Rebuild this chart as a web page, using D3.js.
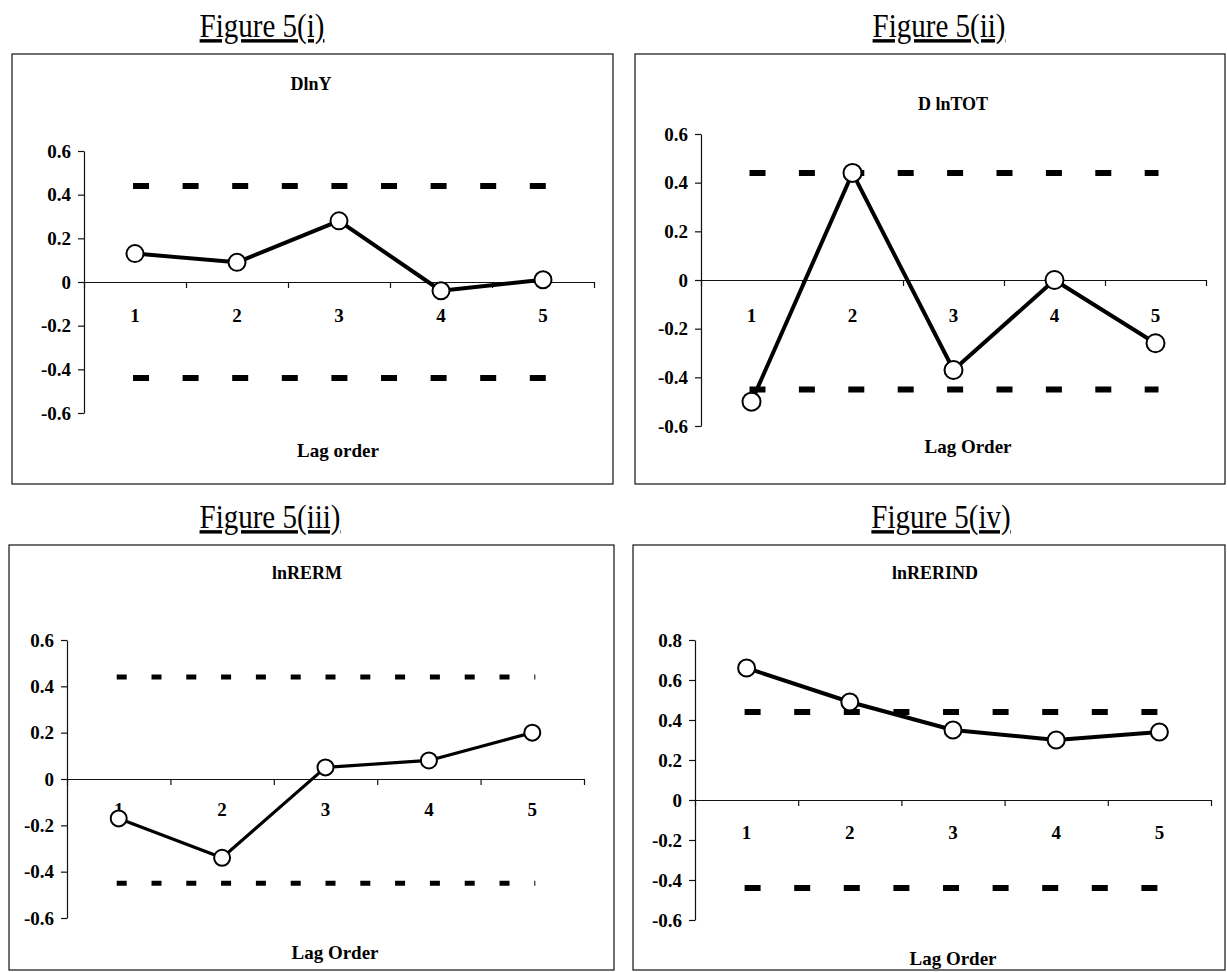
<!DOCTYPE html>
<html>
<head>
<meta charset="utf-8">
<script src="https://cdn.jsdelivr.net/npm/d3@7/dist/d3.min.js"></script>
<style>
  html, body { margin: 0; padding: 0; background: #fff; }
  svg { display: block; }
  text { font-family: "Liberation Serif", "Times New Roman", serif; fill: #000; }
</style>
</head>
<body>
<svg id="chart" width="1227" height="972"></svg>
<script>
// ---------- data ----------
const lags = [1, 2, 3, 4, 5];
const xTickLabels = ["1", "2", "3", "4", "5"];

const dlnY     = [0.13, 0.09, 0.28, -0.04, 0.01];
const dlnTOT   = [-0.50, 0.44, -0.37, 0.00, -0.26];
const lnRERM   = [-0.17, -0.34, 0.05, 0.08, 0.20];
const lnRERIND = [0.66, 0.49, 0.35, 0.30, 0.34];

const upperBound = [0.44, 0.44, 0.44, 0.44];
const lowerBound = [-0.44, -0.45, -0.45, -0.44];

const yTicksA = [-0.6, -0.4, -0.2, 0, 0.2, 0.4, 0.6];
const yTicksB = [-0.6, -0.4, -0.2, 0, 0.2, 0.4, 0.6, 0.8];

const figureTitles = ["Figure 5(i)", "Figure 5(ii)", "Figure 5(iii)", "Figure 5(iv)"];
const chartTitles  = ["DlnY", "D lnTOT", "lnRERM", "lnRERIND"];
const xTitles      = ["Lag order", "Lag Order", "Lag Order", "Lag Order"];
const seriesList   = [dlnY, dlnTOT, lnRERM, lnRERIND];
const yTickSets    = [yTicksA, yTicksA, yTicksA, yTicksB];

// ---------- layout (positions / styles only) ----------
const layouts = [
  { box: [12, 54, 613, 484], x: [84, 594], y: [413, 151], figT: [262, 37], chT: [311, 90], xT: [338, 457],
    labOff: 40, dash: "16,33.6", dashW: 6, lineW: 4, r: 8.5 },
  { box: [635, 54, 1225, 484], x: [701, 1206], y: [426, 134], figT: [939, 37], chT: [953, 110], xT: [968, 453],
    labOff: 42, dash: "16,33.4", dashW: 6, lineW: 4, r: 9 },
  { box: [9, 545, 614, 970], x: [67, 584], y: [918, 640], figT: [270, 528], chT: [307, 579], xT: [335, 959],
    labOff: 37, dash: "10,24.8", dashW: 5, lineW: 3.2, r: 8 },
  { box: [633, 545, 1225, 970], x: [695, 1211], y: [920, 640], figT: [941, 528], chT: [935, 579], xT: [953, 965],
    labOff: 39, dash: "16,33.6", dashW: 6, lineW: 4, r: 8.5 }
];

const svg = d3.select("#chart");

seriesList.forEach((vals, i) => {
  const L = layouts[i];
  const g = svg.append("g");
  const yt = yTickSets[i];

  // frame
  g.append("rect")
    .attr("x", L.box[0]).attr("y", L.box[1])
    .attr("width", L.box[2] - L.box[0]).attr("height", L.box[3] - L.box[1])
    .attr("fill", "none").attr("stroke", "#111").attr("stroke-width", 1.2);

  // figure title (underlined, slightly tall like the scan)
  svg.append("text")
    .attr("transform", `translate(${L.figT[0]},${L.figT[1]}) scale(1,1.18)`)
    .attr("text-anchor", "middle")
    .style("font-size", "29px")
    .style("text-decoration", "underline")
    .text(figureTitles[i]);

  // chart title
  g.append("text")
    .attr("x", L.chT[0]).attr("y", L.chT[1])
    .attr("text-anchor", "middle")
    .style("font-size", "18px").style("font-weight", "bold")
    .text(chartTitles[i]);

  // scales
  const y = d3.scaleLinear().domain([yt[0], yt[yt.length - 1]]).range(L.y);
  const xEdge = d3.scaleLinear().domain([0.5, 5.5]).range(L.x);
  const xPt = d3.scalePoint().domain(lags).range([xEdge(1), xEdge(5)]);

  // y axis
  const yAxis = g.append("g")
    .attr("transform", `translate(${L.x[0]},0)`)
    .call(d3.axisLeft(y).tickValues(yt).tickSize(6).tickSizeOuter(0).tickPadding(7)
      .tickFormat(d => String(d)));
  yAxis.select(".domain").attr("stroke", "#111").attr("stroke-width", 1.2);
  yAxis.selectAll(".tick line").attr("stroke", "#111").attr("stroke-width", 1.2);
  yAxis.selectAll(".tick text")
    .style("font-family", "'Liberation Serif', 'Times New Roman', serif")
    .style("font-size", "19px").style("font-weight", "bold").attr("fill", "#000");

  // x axis at zero with ticks at category boundaries
  const xAxis = g.append("g")
    .attr("transform", `translate(0,${y(0)})`)
    .call(d3.axisBottom(xEdge).tickValues([0.5, 1.5, 2.5, 3.5, 4.5, 5.5]).tickSize(6)
      .tickSizeOuter(0).tickFormat(""));
  xAxis.select(".domain").attr("stroke", "#111").attr("stroke-width", 1.2);
  xAxis.selectAll(".tick line").attr("stroke", "#111").attr("stroke-width", 1.2);

  // x category labels
  g.selectAll(".xl").data(lags).enter().append("text")
    .attr("x", d => xPt(d)).attr("y", y(0) + L.labOff)
    .attr("text-anchor", "middle")
    .style("font-size", "19px").style("font-weight", "bold")
    .text((d, k) => xTickLabels[k]);

  // x title
  g.append("text")
    .attr("x", L.xT[0]).attr("y", L.xT[1])
    .attr("text-anchor", "middle")
    .style("font-size", "19px").style("font-weight", "bold")
    .text(xTitles[i]);

  // bounds (dashed)
  [upperBound[i], lowerBound[i]].forEach(b => {
    g.append("line")
      .attr("x1", xPt(1) - 2).attr("x2", xPt(5) + 3)
      .attr("y1", y(b)).attr("y2", y(b))
      .attr("stroke", "#000").attr("stroke-width", L.dashW)
      .attr("stroke-dasharray", L.dash);
  });

  // series line
  const line = d3.line().x((d, k) => xPt(lags[k])).y(d => y(d));
  g.append("path").datum(vals)
    .attr("d", line)
    .attr("fill", "none").attr("stroke", "#000")
    .attr("stroke-width", L.lineW).attr("stroke-linejoin", "round");

  // markers
  g.selectAll(".pt").data(vals).enter().append("circle")
    .attr("cx", (d, k) => xPt(lags[k])).attr("cy", d => y(d))
    .attr("r", L.r)
    .attr("fill", "#fff").attr("stroke", "#000").attr("stroke-width", 2);
});
</script>
</body>
</html>
